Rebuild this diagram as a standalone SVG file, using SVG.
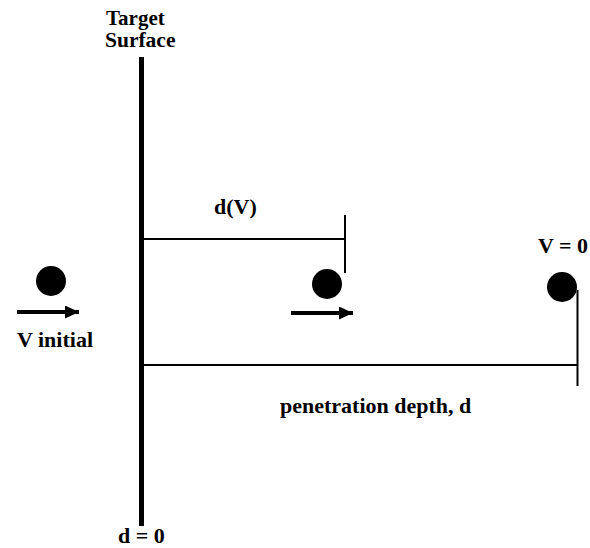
<svg xmlns="http://www.w3.org/2000/svg" width="590" height="548" viewBox="0 0 590 548">
<style>
text{font-family:"Liberation Serif","Times New Roman",serif;font-weight:bold;font-size:22px;fill:#000}
.ln{stroke:#000;stroke-width:2;fill:none}
.arr{stroke:#000;stroke-width:4;fill:none}
.ball{fill:#000}
</style>
<defs>
<marker id="ah" markerWidth="14" markerHeight="13" refX="14" refY="6.5" orient="auto" markerUnits="userSpaceOnUse">
<path d="M0,0 L14,6.5 L0,13 Z" fill="#000"/>
</marker>
</defs>
<rect width="590" height="548" fill="#fff"/>
<g id="target-surface">
<text x="106" y="25" style="font-size:21px">Target</text>
<text x="105" y="47" style="font-size:21.5px">Surface</text>
<line x1="141.5" y1="57" x2="141.5" y2="526" stroke="#000" stroke-width="5"/>
<text x="118" y="543">d = 0</text>
</g>
<g id="ball-initial">
<circle class="ball" cx="51" cy="281" r="15"/>
<text x="17" y="347">V initial</text>
</g>
<g id="ball-middle">
<circle class="ball" cx="327" cy="284" r="15"/>
</g>
<g id="ball-final">
<circle class="ball" cx="562" cy="287" r="15"/>
<text x="538" y="253">V = 0</text>
</g>
<g id="connectors">
<line class="arr" x1="17" y1="312" x2="79" y2="312" marker-end="url(#ah)"/>
<line class="arr" x1="291" y1="313" x2="353" y2="313" marker-end="url(#ah)"/>
<line class="ln" x1="142" y1="239" x2="345" y2="239"/>
<line class="ln" x1="345" y1="215" x2="345" y2="273"/>
<line class="ln" x1="142" y1="365" x2="578" y2="365"/>
<line class="ln" x1="577.5" y1="290" x2="577.5" y2="386"/>
</g>
<g id="labels">
<text x="214" y="214">d(V)</text>
<text x="280" y="413">penetration depth, d</text>
</g>
</svg>
